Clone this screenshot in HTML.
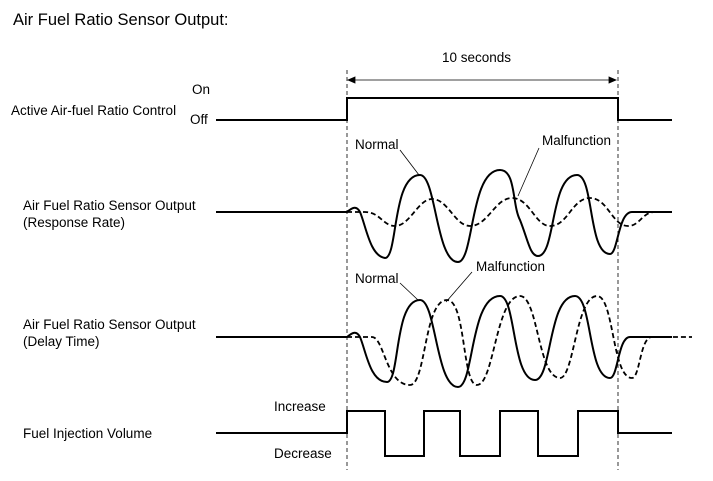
<!DOCTYPE html>
<html><head><meta charset="utf-8"><style>
html,body{margin:0;padding:0;background:#fff}
svg{display:block}
text{font-family:"Liberation Sans",Arial,sans-serif;fill:#000}
</style></head><body>
<svg width="713" height="481" viewBox="0 0 713 481" xmlns="http://www.w3.org/2000/svg">
<text x="13" y="25" font-size="16.5">Air Fuel Ratio Sensor Output:</text>
<g font-size="13.5">
<text x="192" y="94">On</text>
<text x="190" y="124">Off</text>
<text x="11" y="115">Active Air-fuel Ratio Control</text>
<text x="23" y="210">Air Fuel Ratio Sensor Output</text>
<text x="23" y="227">(Response Rate)</text>
<text x="23" y="329">Air Fuel Ratio Sensor Output</text>
<text x="23" y="346">(Delay Time)</text>
<text x="23" y="438">Fuel Injection Volume</text>
<text x="274" y="411">Increase</text>
<text x="274" y="458">Decrease</text>
<text x="442" y="62">10 seconds</text>
<text x="355" y="149">Normal</text>
<text x="542" y="145">Malfunction</text>
<text x="355" y="283">Normal</text>
<text x="476" y="271">Malfunction</text>
</g>
<g stroke="#000" stroke-width="0.8" fill="none" stroke-dasharray="4,3">
<line x1="347" y1="70" x2="347" y2="470"/>
<line x1="618" y1="70" x2="618" y2="470"/>
</g>
<g stroke="#000" stroke-width="0.8" fill="none">
<line x1="349" y1="80" x2="616" y2="80"/>
<path d="M355,77 L348,80 L355,83 Z" fill="#000"/>
<path d="M609,77 L616,80 L609,83 Z" fill="#000"/>
<line x1="400" y1="150" x2="419" y2="175"/>
<line x1="539" y1="148" x2="518" y2="196"/>
<line x1="400" y1="283" x2="418" y2="300"/>
<line x1="472" y1="272" x2="446" y2="302"/>
</g>
<g stroke="#000" stroke-width="2" fill="none">
<path d="M216,120 H347 V98 H618 V120 H672"/>
<path d="M216,433 H347 V411 H385 V456 H424 V411 H460 V456 H500 V411 H538 V456 H578 V411 H618 V433 H672"/>
<path d="M216,212 H347 C352,208 356,205 360,212 C366,226 370,256 385,258 C398,258 392,175 420,175 C436,175 436,262 458,262 C474,262 470,170 500,170 C516,170 512,205 520,220 C528,240 530,256 538,256 C556,256 550,175 577,175 C594,175 588,254 610,254 C618,254 618,212 632,212 H672"/>
<path d="M216,337 H347 C352,333 356,330 360,337 C366,351 370,382 387,382 C400,382 394,300 420,300 C436,300 436,387 458,387 C474,387 470,296 500,296 C516,296 512,380 535,380 C552,380 548,296 575,296 C592,296 588,378 610,378 C618,378 618,337 630,337 H672"/>
</g>
<g stroke="#000" stroke-width="1.8" fill="none" stroke-dasharray="5,3">
<path d="M347,212 H365 C380,212 383,226 395,226 C410,226 418,199 432,199 C448,199 455,226 470,226 C488,226 495,198 512,198 C530,198 535,226 550,226 C568,226 572,198 590,198 C608,198 612,226 628,226 C640,226 642,212 655,212"/>
<path d="M347,337 H372 C384,337 386,385 410,385 C426,385 424,300 447,300 C466,300 462,385 477,385 C494,385 496,296 520,296 C538,296 538,378 560,378 C574,378 576,296 597,296 C614,296 612,378 632,378 C640,378 640,337 652,337 H692"/>
</g>
</svg>
</body></html>
